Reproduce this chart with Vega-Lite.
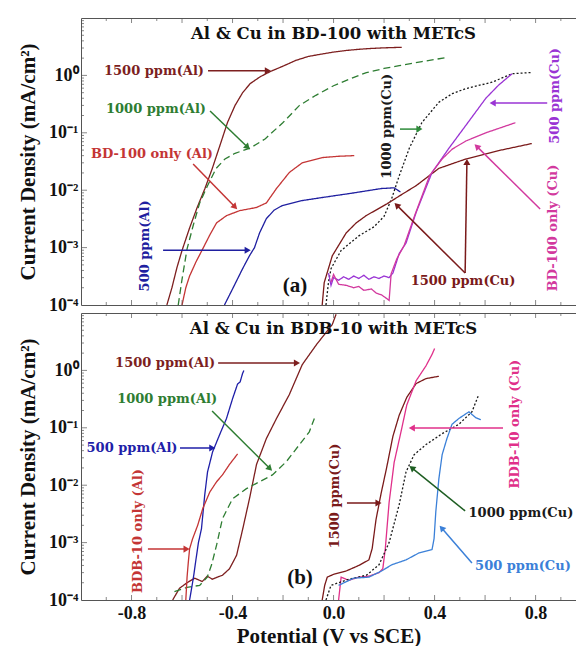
{
  "$schema": "https://vega.github.io/schema/vega-lite/v6.json",
  "padding": {"left": 17, "top": 17, "right": 0, "bottom": 0},
  "spacing": 8,
  "bounds": "flush",
  "config": {
    "view": {"stroke": "#555555", "strokeWidth": 1},
    "font": "Liberation Serif",
    "axis": {
      "domain": false, "ticks": false, "grid": false,
      "labelFont": "Liberation Serif", "labelFontWeight": "bold", "labelFontSize": 18, "labelColor": "#111111",
      "titleFont": "Liberation Serif", "titleFontWeight": "bold", "titleFontSize": 21, "titleColor": "#111111",
      "labelOverlap": false
    }
  },
  "resolve": {"scale": {"color": "independent", "strokeDash": "independent"}},
  "datasets": {
    "xMajor": [{"V": -0.8}, {"V": -0.6}, {"V": -0.4}, {"V": -0.2}, {"V": 0}, {"V": 0.2}, {"V": 0.4}, {"V": 0.6}, {"V": 0.8}],
    "xMinor": [{"V": -0.9}, {"V": -0.7}, {"V": -0.5}, {"V": -0.3}, {"V": -0.1}, {"V": 0.1}, {"V": 0.3}, {"V": 0.5}, {"V": 0.7}, {"V": 0.9}],
    "yMajor": [{"J": 0.001}, {"J": 0.01}, {"J": 0.1}, {"J": 1}],
    "yMinor": [{"J": 0.0002}, {"J": 0.0003}, {"J": 0.0004}, {"J": 0.0005}, {"J": 0.0006}, {"J": 0.0007}, {"J": 0.0008}, {"J": 0.0009}, {"J": 0.002}, {"J": 0.003}, {"J": 0.004}, {"J": 0.005}, {"J": 0.006}, {"J": 0.007}, {"J": 0.008}, {"J": 0.009}, {"J": 0.02}, {"J": 0.03}, {"J": 0.04}, {"J": 0.05}, {"J": 0.06}, {"J": 0.07}, {"J": 0.08}, {"J": 0.09}, {"J": 0.2}, {"J": 0.3}, {"J": 0.4}, {"J": 0.5}, {"J": 0.6}, {"J": 0.7}, {"J": 0.8}, {"J": 0.9}, {"J": 2}, {"J": 3}, {"J": 4}, {"J": 5}, {"J": 6}, {"J": 7}, {"J": 8}, {"J": 9}],
    "linesA": [
      {"series": "1500 ppm(Al)", "V": -0.66, "J": 0.0001}, {"series": "1500 ppm(Al)", "V": -0.64, "J": 0.0002}, {"series": "1500 ppm(Al)", "V": -0.62, "J": 0.00045}, {"series": "1500 ppm(Al)", "V": -0.6, "J": 0.00089}, {"series": "1500 ppm(Al)", "V": -0.57, "J": 0.0022}, {"series": "1500 ppm(Al)", "V": -0.54, "J": 0.005}, {"series": "1500 ppm(Al)", "V": -0.51, "J": 0.0105}, {"series": "1500 ppm(Al)", "V": -0.48, "J": 0.024}, {"series": "1500 ppm(Al)", "V": -0.45, "J": 0.06}, {"series": "1500 ppm(Al)", "V": -0.42, "J": 0.151}, {"series": "1500 ppm(Al)", "V": -0.39, "J": 0.3}, {"series": "1500 ppm(Al)", "V": -0.36, "J": 0.5}, {"series": "1500 ppm(Al)", "V": -0.33, "J": 0.72}, {"series": "1500 ppm(Al)", "V": -0.29, "J": 0.95}, {"series": "1500 ppm(Al)", "V": -0.25, "J": 1.17}, {"series": "1500 ppm(Al)", "V": -0.2, "J": 1.45}, {"series": "1500 ppm(Al)", "V": -0.15, "J": 1.82}, {"series": "1500 ppm(Al)", "V": -0.1, "J": 2.14}, {"series": "1500 ppm(Al)", "V": -0.05, "J": 2.34}, {"series": "1500 ppm(Al)", "V": 0.0, "J": 2.55}, {"series": "1500 ppm(Al)", "V": 0.05, "J": 2.72}, {"series": "1500 ppm(Al)", "V": 0.1, "J": 2.85}, {"series": "1500 ppm(Al)", "V": 0.15, "J": 2.95}, {"series": "1500 ppm(Al)", "V": 0.2, "J": 3.02}, {"series": "1500 ppm(Al)", "V": 0.27, "J": 3.09},
      {"series": "1000 ppm(Al)", "V": -0.615, "J": 0.0001}, {"series": "1000 ppm(Al)", "V": -0.6, "J": 0.00028}, {"series": "1000 ppm(Al)", "V": -0.58, "J": 0.00095}, {"series": "1000 ppm(Al)", "V": -0.555, "J": 0.0025}, {"series": "1000 ppm(Al)", "V": -0.53, "J": 0.006}, {"series": "1000 ppm(Al)", "V": -0.5, "J": 0.0117}, {"series": "1000 ppm(Al)", "V": -0.465, "J": 0.024}, {"series": "1000 ppm(Al)", "V": -0.43, "J": 0.035}, {"series": "1000 ppm(Al)", "V": -0.39, "J": 0.044}, {"series": "1000 ppm(Al)", "V": -0.33, "J": 0.054}, {"series": "1000 ppm(Al)", "V": -0.27, "J": 0.079}, {"series": "1000 ppm(Al)", "V": -0.2, "J": 0.151}, {"series": "1000 ppm(Al)", "V": -0.135, "J": 0.3}, {"series": "1000 ppm(Al)", "V": -0.07, "J": 0.45}, {"series": "1000 ppm(Al)", "V": 0.0, "J": 0.66}, {"series": "1000 ppm(Al)", "V": 0.06, "J": 0.85}, {"series": "1000 ppm(Al)", "V": 0.13, "J": 1.12}, {"series": "1000 ppm(Al)", "V": 0.2, "J": 1.32}, {"series": "1000 ppm(Al)", "V": 0.26, "J": 1.48}, {"series": "1000 ppm(Al)", "V": 0.35, "J": 1.74}, {"series": "1000 ppm(Al)", "V": 0.445, "J": 2.04},
      {"series": "BD-100 only (Al)", "V": -0.6, "J": 0.0001}, {"series": "BD-100 only (Al)", "V": -0.585, "J": 0.0002}, {"series": "BD-100 only (Al)", "V": -0.57, "J": 0.00032}, {"series": "BD-100 only (Al)", "V": -0.545, "J": 0.00056}, {"series": "BD-100 only (Al)", "V": -0.518, "J": 0.00095}, {"series": "BD-100 only (Al)", "V": -0.49, "J": 0.00166}, {"series": "BD-100 only (Al)", "V": -0.463, "J": 0.0027}, {"series": "BD-100 only (Al)", "V": -0.424, "J": 0.0036}, {"series": "BD-100 only (Al)", "V": -0.372, "J": 0.0044}, {"series": "BD-100 only (Al)", "V": -0.305, "J": 0.005}, {"series": "BD-100 only (Al)", "V": -0.266, "J": 0.006}, {"series": "BD-100 only (Al)", "V": -0.226, "J": 0.0107}, {"series": "BD-100 only (Al)", "V": -0.175, "J": 0.0204}, {"series": "BD-100 only (Al)", "V": -0.124, "J": 0.03}, {"series": "BD-100 only (Al)", "V": -0.045, "J": 0.037}, {"series": "BD-100 only (Al)", "V": 0.02, "J": 0.039}, {"series": "BD-100 only (Al)", "V": 0.082, "J": 0.04},
      {"series": "500 ppm(Al)", "V": -0.432, "J": 0.0001}, {"series": "500 ppm(Al)", "V": -0.4, "J": 0.00019}, {"series": "500 ppm(Al)", "V": -0.36, "J": 0.00043}, {"series": "500 ppm(Al)", "V": -0.333, "J": 0.00072}, {"series": "500 ppm(Al)", "V": -0.313, "J": 0.001}, {"series": "500 ppm(Al)", "V": -0.293, "J": 0.0018}, {"series": "500 ppm(Al)", "V": -0.266, "J": 0.0032}, {"series": "500 ppm(Al)", "V": -0.235, "J": 0.0045}, {"series": "500 ppm(Al)", "V": -0.203, "J": 0.0054}, {"series": "500 ppm(Al)", "V": -0.124, "J": 0.0066}, {"series": "500 ppm(Al)", "V": -0.05, "J": 0.0074}, {"series": "500 ppm(Al)", "V": 0.06, "J": 0.0087}, {"series": "500 ppm(Al)", "V": 0.19, "J": 0.0107}, {"series": "500 ppm(Al)", "V": 0.24, "J": 0.011}, {"series": "500 ppm(Al)", "V": 0.265, "J": 0.0093},
      {"series": "1000 ppm(Cu)", "V": -0.03, "J": 0.0001}, {"series": "1000 ppm(Cu)", "V": -0.02, "J": 0.00025}, {"series": "1000 ppm(Cu)", "V": -0.01, "J": 0.00043}, {"series": "1000 ppm(Cu)", "V": 0.03, "J": 0.00089}, {"series": "1000 ppm(Cu)", "V": 0.1, "J": 0.0016}, {"series": "1000 ppm(Cu)", "V": 0.16, "J": 0.0023}, {"series": "1000 ppm(Cu)", "V": 0.2, "J": 0.0035}, {"series": "1000 ppm(Cu)", "V": 0.23, "J": 0.0071}, {"series": "1000 ppm(Cu)", "V": 0.26, "J": 0.0178}, {"series": "1000 ppm(Cu)", "V": 0.3, "J": 0.054}, {"series": "1000 ppm(Cu)", "V": 0.35, "J": 0.151}, {"series": "1000 ppm(Cu)", "V": 0.417, "J": 0.34}, {"series": "1000 ppm(Cu)", "V": 0.47, "J": 0.48}, {"series": "1000 ppm(Cu)", "V": 0.524, "J": 0.59}, {"series": "1000 ppm(Cu)", "V": 0.627, "J": 0.76}, {"series": "1000 ppm(Cu)", "V": 0.707, "J": 1.07}, {"series": "1000 ppm(Cu)", "V": 0.78, "J": 1.12},
      {"series": "1500 ppm(Cu)", "V": -0.045, "J": 0.0001}, {"series": "1500 ppm(Cu)", "V": -0.037, "J": 0.000245}, {"series": "1500 ppm(Cu)", "V": -0.005, "J": 0.00072}, {"series": "1500 ppm(Cu)", "V": 0.05, "J": 0.0018}, {"series": "1500 ppm(Cu)", "V": 0.09, "J": 0.0027}, {"series": "1500 ppm(Cu)", "V": 0.129, "J": 0.0036}, {"series": "1500 ppm(Cu)", "V": 0.212, "J": 0.0058}, {"series": "1500 ppm(Cu)", "V": 0.26, "J": 0.0079}, {"series": "1500 ppm(Cu)", "V": 0.327, "J": 0.012}, {"series": "1500 ppm(Cu)", "V": 0.417, "J": 0.024}, {"series": "1500 ppm(Cu)", "V": 0.524, "J": 0.035}, {"series": "1500 ppm(Cu)", "V": 0.654, "J": 0.049}, {"series": "1500 ppm(Cu)", "V": 0.785, "J": 0.065},
      {"series": "500 ppm(Cu)", "V": -0.02, "J": 0.00036}, {"series": "500 ppm(Cu)", "V": -0.01, "J": 0.00022}, {"series": "500 ppm(Cu)", "V": 0.0, "J": 0.0003}, {"series": "500 ppm(Cu)", "V": 0.02, "J": 0.00027}, {"series": "500 ppm(Cu)", "V": 0.04, "J": 0.00031}, {"series": "500 ppm(Cu)", "V": 0.06, "J": 0.00028}, {"series": "500 ppm(Cu)", "V": 0.08, "J": 0.00032}, {"series": "500 ppm(Cu)", "V": 0.1, "J": 0.00029}, {"series": "500 ppm(Cu)", "V": 0.12, "J": 0.00033}, {"series": "500 ppm(Cu)", "V": 0.14, "J": 0.00028}, {"series": "500 ppm(Cu)", "V": 0.16, "J": 0.00031}, {"series": "500 ppm(Cu)", "V": 0.18, "J": 0.00029}, {"series": "500 ppm(Cu)", "V": 0.2, "J": 0.00032}, {"series": "500 ppm(Cu)", "V": 0.22, "J": 0.0003}, {"series": "500 ppm(Cu)", "V": 0.235, "J": 0.00036}, {"series": "500 ppm(Cu)", "V": 0.26, "J": 0.00079}, {"series": "500 ppm(Cu)", "V": 0.287, "J": 0.0012}, {"series": "500 ppm(Cu)", "V": 0.327, "J": 0.0041}, {"series": "500 ppm(Cu)", "V": 0.39, "J": 0.0204}, {"series": "500 ppm(Cu)", "V": 0.457, "J": 0.054}, {"series": "500 ppm(Cu)", "V": 0.524, "J": 0.135}, {"series": "500 ppm(Cu)", "V": 0.603, "J": 0.4}, {"series": "500 ppm(Cu)", "V": 0.654, "J": 0.68}, {"series": "500 ppm(Cu)", "V": 0.707, "J": 1.07},
      {"series": "BD-100 only (Cu)", "V": -0.01, "J": 0.00025}, {"series": "BD-100 only (Cu)", "V": 0.0, "J": 0.00034}, {"series": "BD-100 only (Cu)", "V": 0.02, "J": 0.00023}, {"series": "BD-100 only (Cu)", "V": 0.05, "J": 0.00022}, {"series": "BD-100 only (Cu)", "V": 0.08, "J": 0.0002}, {"series": "BD-100 only (Cu)", "V": 0.1, "J": 0.00021}, {"series": "BD-100 only (Cu)", "V": 0.12, "J": 0.00018}, {"series": "BD-100 only (Cu)", "V": 0.15, "J": 0.00019}, {"series": "BD-100 only (Cu)", "V": 0.17, "J": 0.00016}, {"series": "BD-100 only (Cu)", "V": 0.19, "J": 0.00015}, {"series": "BD-100 only (Cu)", "V": 0.21, "J": 0.00013}, {"series": "BD-100 only (Cu)", "V": 0.22, "J": 0.00012}, {"series": "BD-100 only (Cu)", "V": 0.228, "J": 0.00035}, {"series": "BD-100 only (Cu)", "V": 0.25, "J": 0.00063}, {"series": "BD-100 only (Cu)", "V": 0.28, "J": 0.0011}, {"series": "BD-100 only (Cu)", "V": 0.32, "J": 0.0035}, {"series": "BD-100 only (Cu)", "V": 0.38, "J": 0.0178}, {"series": "BD-100 only (Cu)", "V": 0.43, "J": 0.035}, {"series": "BD-100 only (Cu)", "V": 0.47, "J": 0.052}, {"series": "BD-100 only (Cu)", "V": 0.524, "J": 0.072}, {"series": "BD-100 only (Cu)", "V": 0.603, "J": 0.1}, {"series": "BD-100 only (Cu)", "V": 0.72, "J": 0.15}
    ],
    "linesB": [
      {"series": "1500 ppm(Al)", "V": -0.637, "J": 0.0001}, {"series": "1500 ppm(Al)", "V": -0.61, "J": 0.00016}, {"series": "1500 ppm(Al)", "V": -0.58, "J": 0.0002}, {"series": "1500 ppm(Al)", "V": -0.55, "J": 0.00024}, {"series": "1500 ppm(Al)", "V": -0.52, "J": 0.00021}, {"series": "1500 ppm(Al)", "V": -0.5, "J": 0.00026}, {"series": "1500 ppm(Al)", "V": -0.48, "J": 0.00023}, {"series": "1500 ppm(Al)", "V": -0.46, "J": 0.00025}, {"series": "1500 ppm(Al)", "V": -0.44, "J": 0.00027}, {"series": "1500 ppm(Al)", "V": -0.412, "J": 0.00035}, {"series": "1500 ppm(Al)", "V": -0.384, "J": 0.0006}, {"series": "1500 ppm(Al)", "V": -0.36, "J": 0.0017}, {"series": "1500 ppm(Al)", "V": -0.333, "J": 0.0058}, {"series": "1500 ppm(Al)", "V": -0.305, "J": 0.023}, {"series": "1500 ppm(Al)", "V": -0.266, "J": 0.065}, {"series": "1500 ppm(Al)", "V": -0.226, "J": 0.145}, {"series": "1500 ppm(Al)", "V": -0.175, "J": 0.38}, {"series": "1500 ppm(Al)", "V": -0.124, "J": 1.26}, {"series": "1500 ppm(Al)", "V": -0.068, "J": 2.8}, {"series": "1500 ppm(Al)", "V": -0.005, "J": 6.3}, {"series": "1500 ppm(Al)", "V": 0.01, "J": 9.5},
      {"series": "1000 ppm(Al)", "V": -0.63, "J": 0.00014}, {"series": "1000 ppm(Al)", "V": -0.58, "J": 0.000166}, {"series": "1000 ppm(Al)", "V": -0.53, "J": 0.00018}, {"series": "1000 ppm(Al)", "V": -0.5, "J": 0.00025}, {"series": "1000 ppm(Al)", "V": -0.483, "J": 0.00041}, {"series": "1000 ppm(Al)", "V": -0.463, "J": 0.00091}, {"series": "1000 ppm(Al)", "V": -0.44, "J": 0.0026}, {"series": "1000 ppm(Al)", "V": -0.4, "J": 0.0058}, {"series": "1000 ppm(Al)", "V": -0.345, "J": 0.0087}, {"series": "1000 ppm(Al)", "V": -0.293, "J": 0.0115}, {"series": "1000 ppm(Al)", "V": -0.242, "J": 0.0151}, {"series": "1000 ppm(Al)", "V": -0.187, "J": 0.0257}, {"series": "1000 ppm(Al)", "V": -0.135, "J": 0.051}, {"series": "1000 ppm(Al)", "V": -0.096, "J": 0.085}, {"series": "1000 ppm(Al)", "V": -0.076, "J": 0.145},
      {"series": "500 ppm(Al)", "V": -0.57, "J": 0.0001}, {"series": "500 ppm(Al)", "V": -0.56, "J": 0.00018}, {"series": "500 ppm(Al)", "V": -0.553, "J": 0.00028}, {"series": "500 ppm(Al)", "V": -0.545, "J": 0.0005}, {"series": "500 ppm(Al)", "V": -0.535, "J": 0.001}, {"series": "500 ppm(Al)", "V": -0.523, "J": 0.00174}, {"series": "500 ppm(Al)", "V": -0.51, "J": 0.0068}, {"series": "500 ppm(Al)", "V": -0.499, "J": 0.017}, {"series": "500 ppm(Al)", "V": -0.479, "J": 0.038}, {"series": "500 ppm(Al)", "V": -0.451, "J": 0.076}, {"series": "500 ppm(Al)", "V": -0.424, "J": 0.145}, {"series": "500 ppm(Al)", "V": -0.4, "J": 0.32}, {"series": "500 ppm(Al)", "V": -0.38, "J": 0.58}, {"series": "500 ppm(Al)", "V": -0.37, "J": 0.63}, {"series": "500 ppm(Al)", "V": -0.36, "J": 0.89}, {"series": "500 ppm(Al)", "V": -0.355, "J": 1.0},
      {"series": "BDB-10 only (Al)", "V": -0.585, "J": 0.0001}, {"series": "BDB-10 only (Al)", "V": -0.58, "J": 0.00025}, {"series": "BDB-10 only (Al)", "V": -0.575, "J": 0.00046}, {"series": "BDB-10 only (Al)", "V": -0.57, "J": 0.00078}, {"series": "BDB-10 only (Al)", "V": -0.558, "J": 0.00117}, {"series": "BDB-10 only (Al)", "V": -0.538, "J": 0.002}, {"series": "BDB-10 only (Al)", "V": -0.518, "J": 0.0039}, {"series": "BDB-10 only (Al)", "V": -0.49, "J": 0.0076}, {"series": "BDB-10 only (Al)", "V": -0.463, "J": 0.0115}, {"series": "BDB-10 only (Al)", "V": -0.44, "J": 0.0151}, {"series": "BDB-10 only (Al)", "V": -0.412, "J": 0.023}, {"series": "BDB-10 only (Al)", "V": -0.38, "J": 0.035},
      {"series": "1500 ppm(Cu)", "V": -0.045, "J": 0.0001}, {"series": "1500 ppm(Cu)", "V": -0.035, "J": 0.00018}, {"series": "1500 ppm(Cu)", "V": -0.025, "J": 0.00025}, {"series": "1500 ppm(Cu)", "V": 0.0, "J": 0.00028}, {"series": "1500 ppm(Cu)", "V": 0.05, "J": 0.00032}, {"series": "1500 ppm(Cu)", "V": 0.1, "J": 0.0004}, {"series": "1500 ppm(Cu)", "V": 0.14, "J": 0.0005}, {"series": "1500 ppm(Cu)", "V": 0.153, "J": 0.00079}, {"series": "1500 ppm(Cu)", "V": 0.168, "J": 0.0025}, {"series": "1500 ppm(Cu)", "V": 0.188, "J": 0.0071}, {"series": "1500 ppm(Cu)", "V": 0.21, "J": 0.02}, {"series": "1500 ppm(Cu)", "V": 0.235, "J": 0.071}, {"series": "1500 ppm(Cu)", "V": 0.26, "J": 0.166}, {"series": "1500 ppm(Cu)", "V": 0.29, "J": 0.34}, {"series": "1500 ppm(Cu)", "V": 0.327, "J": 0.59}, {"series": "1500 ppm(Cu)", "V": 0.366, "J": 0.72}, {"series": "1500 ppm(Cu)", "V": 0.417, "J": 0.79},
      {"series": "BDB-10 only (Cu)", "V": 0.02, "J": 0.0001}, {"series": "BDB-10 only (Cu)", "V": 0.03, "J": 0.00025}, {"series": "BDB-10 only (Cu)", "V": 0.06, "J": 0.00022}, {"series": "BDB-10 only (Cu)", "V": 0.1, "J": 0.00025}, {"series": "BDB-10 only (Cu)", "V": 0.14, "J": 0.00026}, {"series": "BDB-10 only (Cu)", "V": 0.18, "J": 0.0003}, {"series": "BDB-10 only (Cu)", "V": 0.195, "J": 0.00035}, {"series": "BDB-10 only (Cu)", "V": 0.205, "J": 0.00079}, {"series": "BDB-10 only (Cu)", "V": 0.22, "J": 0.005}, {"series": "BDB-10 only (Cu)", "V": 0.24, "J": 0.025}, {"series": "BDB-10 only (Cu)", "V": 0.267, "J": 0.085}, {"series": "BDB-10 only (Cu)", "V": 0.29, "J": 0.25}, {"series": "BDB-10 only (Cu)", "V": 0.327, "J": 0.66}, {"series": "BDB-10 only (Cu)", "V": 0.366, "J": 1.2}, {"series": "BDB-10 only (Cu)", "V": 0.39, "J": 1.9}, {"series": "BDB-10 only (Cu)", "V": 0.4, "J": 2.4},
      {"series": "1000 ppm(Cu)", "V": -0.03, "J": 0.0001}, {"series": "1000 ppm(Cu)", "V": -0.01, "J": 0.00018}, {"series": "1000 ppm(Cu)", "V": 0.06, "J": 0.00023}, {"series": "1000 ppm(Cu)", "V": 0.13, "J": 0.00027}, {"series": "1000 ppm(Cu)", "V": 0.18, "J": 0.00041}, {"series": "1000 ppm(Cu)", "V": 0.22, "J": 0.001}, {"series": "1000 ppm(Cu)", "V": 0.26, "J": 0.0046}, {"series": "1000 ppm(Cu)", "V": 0.287, "J": 0.017}, {"series": "1000 ppm(Cu)", "V": 0.319, "J": 0.034}, {"series": "1000 ppm(Cu)", "V": 0.366, "J": 0.051}, {"series": "1000 ppm(Cu)", "V": 0.43, "J": 0.079}, {"series": "1000 ppm(Cu)", "V": 0.496, "J": 0.115}, {"series": "1000 ppm(Cu)", "V": 0.548, "J": 0.19}, {"series": "1000 ppm(Cu)", "V": 0.575, "J": 0.38},
      {"series": "500 ppm(Cu)", "V": 0.02, "J": 0.00018}, {"series": "500 ppm(Cu)", "V": 0.08, "J": 0.00024}, {"series": "500 ppm(Cu)", "V": 0.14, "J": 0.00025}, {"series": "500 ppm(Cu)", "V": 0.19, "J": 0.00032}, {"series": "500 ppm(Cu)", "V": 0.23, "J": 0.00041}, {"series": "500 ppm(Cu)", "V": 0.287, "J": 0.0005}, {"series": "500 ppm(Cu)", "V": 0.338, "J": 0.00066}, {"series": "500 ppm(Cu)", "V": 0.39, "J": 0.00076}, {"series": "500 ppm(Cu)", "V": 0.398, "J": 0.00117}, {"series": "500 ppm(Cu)", "V": 0.405, "J": 0.0035}, {"series": "500 ppm(Cu)", "V": 0.417, "J": 0.0129}, {"series": "500 ppm(Cu)", "V": 0.43, "J": 0.034}, {"series": "500 ppm(Cu)", "V": 0.449, "J": 0.065}, {"series": "500 ppm(Cu)", "V": 0.469, "J": 0.115}, {"series": "500 ppm(Cu)", "V": 0.496, "J": 0.145}, {"series": "500 ppm(Cu)", "V": 0.536, "J": 0.19}, {"series": "500 ppm(Cu)", "V": 0.563, "J": 0.15}, {"series": "500 ppm(Cu)", "V": 0.583, "J": 0.138}
    ],
    "textA_h": [
      {"label": "1500 ppm(Al)", "V": -0.711, "J": 1.2, "series": "1500 ppm(Al)"},
      {"label": "1000 ppm(Al)", "V": -0.703, "J": 0.26, "series": "1000 ppm(Al)"},
      {"label": "BD-100 only (Al)", "V": -0.719, "J": 0.043, "series": "BD-100 only (Al)"},
      {"label": "1500 ppm(Cu)", "V": 0.513, "J": 0.00026, "series": "1500 ppm(Cu)"}
    ],
    "textA_v": [
      {"label": "500 ppm(Al)", "V": -0.747, "J": 0.00107, "series": "500 ppm(Al)"},
      {"label": "1000 ppm(Cu)", "V": 0.21, "J": 0.13, "series": "1000 ppm(Cu)"},
      {"label": "500 ppm(Cu)", "V": 0.877, "J": 0.44, "series": "500 ppm(Cu)"},
      {"label": "BD-100 only (Cu)", "V": 0.869, "J": 0.0022, "series": "BD-100 only (Cu)"}
    ],
    "arrowsA": [
      {"series": "1500 ppm(Al)", "V": -0.497, "J": 1.2, "V2": -0.26, "J2": 1.2},
      {"series": "1000 ppm(Al)", "V": -0.489, "J": 0.24, "V2": -0.34, "J2": 0.056},
      {"series": "BD-100 only (Al)", "V": -0.556, "J": 0.0286, "V2": -0.39, "J2": 0.0051},
      {"series": "500 ppm(Al)", "V": -0.675, "J": 0.0009, "V2": -0.34, "J2": 0.0009},
      {"series": "1000 ppm(Cu) arrow", "V": 0.263, "J": 0.116, "V2": 0.34, "J2": 0.116},
      {"series": "500 ppm(Cu)", "V": 0.846, "J": 0.33, "V2": 0.63, "J2": 0.33},
      {"series": "BD-100 only (Cu)", "V": 0.818, "J": 0.0047, "V2": 0.567, "J2": 0.058},
      {"series": "1500 ppm(Cu)", "V": 0.521, "J": 0.00036, "V2": 0.25, "J2": 0.0055},
      {"series": "1500 ppm(Cu)", "V": 0.521, "J": 0.00036, "V2": 0.528, "J2": 0.031}
    ],
    "textB_h": [
      {"label": "1500 ppm(Al)", "V": -0.667, "J": 1.35, "series": "1500 ppm(Al)"},
      {"label": "1000 ppm(Al)", "V": -0.659, "J": 0.318, "series": "1000 ppm(Al)"},
      {"label": "500 ppm(Al)", "V": -0.798, "J": 0.0445, "series": "500 ppm(Al)"},
      {"label": "1000 ppm(Cu)", "V": 0.742, "J": 0.00328, "series": "1000 ppm(Cu)"},
      {"label": "500 ppm(Cu)", "V": 0.75, "J": 0.00039, "series": "500 ppm(Cu)"}
    ],
    "textB_v": [
      {"label": "BDB-10 only (Al)", "V": -0.774, "J": 0.00159, "series": "BDB-10 only (Al)"},
      {"label": "1500 ppm(Cu)", "V": 0.006, "J": 0.0065, "series": "1500 ppm(Cu)"},
      {"label": "BDB-10 only (Cu)", "V": 0.719, "J": 0.116, "series": "BDB-10 only (Cu)"}
    ],
    "arrowsB": [
      {"series": "1500 ppm(Al)", "V": -0.457, "J": 1.35, "V2": -0.145, "J2": 1.35},
      {"series": "1000 ppm(Al)", "V": -0.481, "J": 0.196, "V2": -0.252, "J2": 0.0195},
      {"series": "500 ppm(Al)", "V": -0.608, "J": 0.0445, "V2": -0.48, "J2": 0.0445},
      {"series": "BDB-10 only (Al)", "V": -0.735, "J": 0.00077, "V2": -0.582, "J2": 0.00077},
      {"series": "1500 ppm(Cu)", "V": 0.053, "J": 0.0049, "V2": 0.178, "J2": 0.0049},
      {"series": "BDB-10 only (Cu)", "V": 0.671, "J": 0.0993, "V2": 0.31, "J2": 0.0993},
      {"series": "1000 ppm(Cu) arrow", "V": 0.521, "J": 0.00356, "V2": 0.31, "J2": 0.02},
      {"series": "500 ppm(Cu)", "V": 0.548, "J": 0.00044, "V2": 0.428, "J2": 0.0018}
    ]
  },
  "vconcat": [
    {
      "width": 495, "height": 287,
      "resolve": {"axis": {"x": "independent", "y": "independent"}},
      "layer": [
        {
          "data": {"name": "linesA"},
          "mark": {"type": "line", "strokeWidth": 1.3, "clip": true},
          "encoding": {
            "x": {"field": "V", "type": "quantitative", "scale": {"domain": [-1, 0.96], "nice": false, "zero": false}, "axis": null},
            "y": {"field": "J", "type": "quantitative", "scale": {"type": "log", "domain": [0.0001, 10], "nice": false},
              "axis": {"title": "Current Density (mA/cm²)", "titlePadding": 10, "labelPadding": 3,
                "values": [0.0001, 0.001, 0.01, 0.1, 1],
                "labelExpr": "datum.value < 0.0002 ? '10⁻⁴' : datum.value < 0.002 ? '10⁻³' : datum.value < 0.02 ? '10⁻²' : datum.value < 0.2 ? '10⁻¹' : '10⁰'"}},
            "color": {"field": "series", "type": "nominal", "legend": null,
              "scale": {"domain": ["1500 ppm(Al)", "1000 ppm(Al)", "BD-100 only (Al)", "500 ppm(Al)", "1000 ppm(Cu)", "1500 ppm(Cu)", "500 ppm(Cu)", "BD-100 only (Cu)", "1000 ppm(Cu) arrow", "title"],
                "range": ["#7d1f1f", "#2e7d32", "#c43535", "#1f1fa0", "#1a1a1a", "#7a1a1a", "#9a34d4", "#d2399e", "#2e8b3a", "#111111"]}},
            "strokeDash": {"field": "series", "type": "nominal", "legend": null,
              "scale": {"domain": ["1500 ppm(Al)", "1000 ppm(Al)", "BD-100 only (Al)", "500 ppm(Al)", "1000 ppm(Cu)", "1500 ppm(Cu)", "500 ppm(Cu)", "BD-100 only (Cu)"],
                "range": [[1, 0], [7, 4], [1, 0], [1, 0], [2, 2], [1, 0], [1, 0], [1, 0]]}}
          }
        },
        {"data": {"name": "xMajor"}, "mark": {"type": "tick", "orient": "vertical", "size": 10, "thickness": 1, "color": "#555555", "clip": true},
          "encoding": {"x": {"field": "V", "type": "quantitative", "axis": null}, "y": {"datum": 0.0001, "axis": null}}},
        {"data": {"name": "xMajor"}, "mark": {"type": "tick", "orient": "vertical", "size": 10, "thickness": 1, "color": "#555555", "clip": true},
          "encoding": {"x": {"field": "V", "type": "quantitative", "axis": null}, "y": {"datum": 10, "axis": null}}},
        {"data": {"name": "xMinor"}, "mark": {"type": "tick", "orient": "vertical", "size": 6, "thickness": 1, "color": "#555555", "clip": true},
          "encoding": {"x": {"field": "V", "type": "quantitative", "axis": null}, "y": {"datum": 0.0001, "axis": null}}},
        {"data": {"name": "xMinor"}, "mark": {"type": "tick", "orient": "vertical", "size": 6, "thickness": 1, "color": "#555555", "clip": true},
          "encoding": {"x": {"field": "V", "type": "quantitative", "axis": null}, "y": {"datum": 10, "axis": null}}},
        {"data": {"name": "yMajor"}, "mark": {"type": "tick", "orient": "horizontal", "size": 12, "thickness": 1, "color": "#555555", "clip": true},
          "encoding": {"y": {"field": "J", "type": "quantitative", "axis": null}, "x": {"datum": -1, "axis": null}}},
        {"data": {"name": "yMinor"}, "mark": {"type": "tick", "orient": "horizontal", "size": 6, "thickness": 1, "color": "#555555", "clip": true},
          "encoding": {"y": {"field": "J", "type": "quantitative", "axis": null}, "x": {"datum": -1, "axis": null}}},
        {
          "data": {"values": [{"label": "Al & Cu in BD-100 with METcS", "V": 0.0, "J": 5.26, "series": "title"}]},
          "mark": {"type": "text", "font": "DejaVu Serif", "fontWeight": "bold", "fontSize": 16.5, "align": "center", "baseline": "middle"},
          "encoding": {
            "x": {"field": "V", "type": "quantitative", "axis": null},
            "y": {"field": "J", "type": "quantitative", "axis": null},
            "text": {"field": "label"},
            "color": {"field": "series", "type": "nominal", "legend": null}
          }
        },
        {
          "data": {"name": "arrowsA"},
          "mark": {"type": "rule", "strokeWidth": 1.5},
          "encoding": {
            "x": {"field": "V", "type": "quantitative", "axis": null},
            "y": {"field": "J", "type": "quantitative", "axis": null},
            "x2": {"field": "V2"}, "y2": {"field": "J2"},
            "color": {"field": "series", "type": "nominal", "legend": null}
          }
        },
        {
          "data": {"name": "arrowsA"},
          "transform": [{"calculate": "atan2(-(log(datum.J2) - log(datum.J)) / LN10 * 57.4, (datum.V2 - datum.V) * 252.55) * 180 / PI", "as": "ang"}],
          "mark": {"type": "point", "shape": "triangle-right", "filled": true, "size": 50, "opacity": 1},
          "encoding": {
            "x": {"field": "V2", "type": "quantitative", "axis": null},
            "y": {"field": "J2", "type": "quantitative", "axis": null},
            "angle": {"field": "ang", "type": "quantitative", "scale": null},
            "color": {"field": "series", "type": "nominal", "legend": null}
          }
        },
        {
          "data": {"name": "textA_h"},
          "mark": {"type": "text", "font": "DejaVu Serif", "fontWeight": "bold", "fontSize": 13, "align": "center", "baseline": "middle"},
          "encoding": {
            "x": {"field": "V", "type": "quantitative", "axis": null},
            "y": {"field": "J", "type": "quantitative", "axis": null},
            "text": {"field": "label"},
            "color": {"field": "series", "type": "nominal", "legend": null}
          }
        },
        {
          "data": {"name": "textA_v"},
          "mark": {"type": "text", "font": "DejaVu Serif", "fontWeight": "bold", "fontSize": 13, "align": "center", "baseline": "middle", "angle": 270},
          "encoding": {
            "x": {"field": "V", "type": "quantitative", "axis": null},
            "y": {"field": "J", "type": "quantitative", "axis": null},
            "text": {"field": "label"},
            "color": {"field": "series", "type": "nominal", "legend": null}
          }
        },
        {
          "data": {"values": [{"label": "(a)", "V": -0.153, "J": 0.000214, "series": "title"}]},
          "mark": {"type": "text", "font": "Liberation Serif", "fontWeight": "bold", "fontSize": 21, "align": "center", "baseline": "middle"},
          "encoding": {
            "x": {"field": "V", "type": "quantitative", "axis": null},
            "y": {"field": "J", "type": "quantitative", "axis": null},
            "text": {"field": "label"},
            "color": {"field": "series", "type": "nominal", "legend": null}
          }
        }
      ]
    },
    {
      "width": 495, "height": 287,
      "resolve": {"axis": {"x": "independent", "y": "independent"}},
      "layer": [
        {
          "data": {"name": "linesB"},
          "mark": {"type": "line", "strokeWidth": 1.3, "clip": true},
          "encoding": {
            "x": {"field": "V", "type": "quantitative", "scale": {"domain": [-1, 0.96], "nice": false, "zero": false},
              "axis": {"title": "Potential (V vs SCE)", "titlePadding": 3, "labelPadding": 4,
                "values": [-0.8, -0.4, 0, 0.4, 0.8],
                "labelExpr": "replace(format(datum.value, '.1f'), '−', '-')"}},
            "y": {"field": "J", "type": "quantitative", "scale": {"type": "log", "domain": [0.0001, 10], "nice": false},
              "axis": {"title": "Current Density (mA/cm²)", "titlePadding": 10, "labelPadding": 3,
                "values": [0.0001, 0.001, 0.01, 0.1, 1],
                "labelExpr": "datum.value < 0.0002 ? '10⁻⁴' : datum.value < 0.002 ? '10⁻³' : datum.value < 0.02 ? '10⁻²' : datum.value < 0.2 ? '10⁻¹' : '10⁰'"}},
            "color": {"field": "series", "type": "nominal", "legend": null,
              "scale": {"domain": ["1500 ppm(Al)", "1000 ppm(Al)", "BDB-10 only (Al)", "500 ppm(Al)", "1500 ppm(Cu)", "BDB-10 only (Cu)", "1000 ppm(Cu)", "500 ppm(Cu)", "1000 ppm(Cu) arrow", "title"],
                "range": ["#7d1f1f", "#2e7d32", "#c43535", "#1f1fa8", "#7a1a1a", "#e0308a", "#1a1a1a", "#3b80d8", "#1e5e22", "#111111"]}},
            "strokeDash": {"field": "series", "type": "nominal", "legend": null,
              "scale": {"domain": ["1500 ppm(Al)", "1000 ppm(Al)", "BDB-10 only (Al)", "500 ppm(Al)", "1500 ppm(Cu)", "BDB-10 only (Cu)", "1000 ppm(Cu)", "500 ppm(Cu)"],
                "range": [[1, 0], [7, 4], [1, 0], [1, 0], [1, 0], [1, 0], [2, 2], [1, 0]]}}
          }
        },
        {"data": {"name": "xMajor"}, "mark": {"type": "tick", "orient": "vertical", "size": 10, "thickness": 1, "color": "#555555", "clip": true},
          "encoding": {"x": {"field": "V", "type": "quantitative", "axis": null}, "y": {"datum": 0.0001, "axis": null}}},
        {"data": {"name": "xMajor"}, "mark": {"type": "tick", "orient": "vertical", "size": 10, "thickness": 1, "color": "#555555", "clip": true},
          "encoding": {"x": {"field": "V", "type": "quantitative", "axis": null}, "y": {"datum": 10, "axis": null}}},
        {"data": {"name": "xMinor"}, "mark": {"type": "tick", "orient": "vertical", "size": 6, "thickness": 1, "color": "#555555", "clip": true},
          "encoding": {"x": {"field": "V", "type": "quantitative", "axis": null}, "y": {"datum": 0.0001, "axis": null}}},
        {"data": {"name": "xMinor"}, "mark": {"type": "tick", "orient": "vertical", "size": 6, "thickness": 1, "color": "#555555", "clip": true},
          "encoding": {"x": {"field": "V", "type": "quantitative", "axis": null}, "y": {"datum": 10, "axis": null}}},
        {"data": {"name": "yMajor"}, "mark": {"type": "tick", "orient": "horizontal", "size": 12, "thickness": 1, "color": "#555555", "clip": true},
          "encoding": {"y": {"field": "J", "type": "quantitative", "axis": null}, "x": {"datum": -1, "axis": null}}},
        {"data": {"name": "yMinor"}, "mark": {"type": "tick", "orient": "horizontal", "size": 6, "thickness": 1, "color": "#555555", "clip": true},
          "encoding": {"y": {"field": "J", "type": "quantitative", "axis": null}, "x": {"datum": -1, "axis": null}}},
        {
          "data": {"values": [{"label": "Al & Cu in BDB-10 with METcS", "V": 0.0, "J": 5.26, "series": "title"}]},
          "mark": {"type": "text", "font": "DejaVu Serif", "fontWeight": "bold", "fontSize": 16.5, "align": "center", "baseline": "middle"},
          "encoding": {
            "x": {"field": "V", "type": "quantitative", "axis": null},
            "y": {"field": "J", "type": "quantitative", "axis": null},
            "text": {"field": "label"},
            "color": {"field": "series", "type": "nominal", "legend": null}
          }
        },
        {
          "data": {"name": "arrowsB"},
          "mark": {"type": "rule", "strokeWidth": 1.5},
          "encoding": {
            "x": {"field": "V", "type": "quantitative", "axis": null},
            "y": {"field": "J", "type": "quantitative", "axis": null},
            "x2": {"field": "V2"}, "y2": {"field": "J2"},
            "color": {"field": "series", "type": "nominal", "legend": null}
          }
        },
        {
          "data": {"name": "arrowsB"},
          "transform": [{"calculate": "atan2(-(log(datum.J2) - log(datum.J)) / LN10 * 57.4, (datum.V2 - datum.V) * 252.55) * 180 / PI", "as": "ang"}],
          "mark": {"type": "point", "shape": "triangle-right", "filled": true, "size": 50, "opacity": 1},
          "encoding": {
            "x": {"field": "V2", "type": "quantitative", "axis": null},
            "y": {"field": "J2", "type": "quantitative", "axis": null},
            "angle": {"field": "ang", "type": "quantitative", "scale": null},
            "color": {"field": "series", "type": "nominal", "legend": null}
          }
        },
        {
          "data": {"name": "textB_h"},
          "mark": {"type": "text", "font": "DejaVu Serif", "fontWeight": "bold", "fontSize": 13, "align": "center", "baseline": "middle"},
          "encoding": {
            "x": {"field": "V", "type": "quantitative", "axis": null},
            "y": {"field": "J", "type": "quantitative", "axis": null},
            "text": {"field": "label"},
            "color": {"field": "series", "type": "nominal", "legend": null}
          }
        },
        {
          "data": {"name": "textB_v"},
          "mark": {"type": "text", "font": "DejaVu Serif", "fontWeight": "bold", "fontSize": 13, "align": "center", "baseline": "middle", "angle": 270},
          "encoding": {
            "x": {"field": "V", "type": "quantitative", "axis": null},
            "y": {"field": "J", "type": "quantitative", "axis": null},
            "text": {"field": "label"},
            "color": {"field": "series", "type": "nominal", "legend": null}
          }
        },
        {
          "data": {"values": [{"label": "(b)", "V": -0.133, "J": 0.00024, "series": "title"}]},
          "mark": {"type": "text", "font": "Liberation Serif", "fontWeight": "bold", "fontSize": 21, "align": "center", "baseline": "middle"},
          "encoding": {
            "x": {"field": "V", "type": "quantitative", "axis": null},
            "y": {"field": "J", "type": "quantitative", "axis": null},
            "text": {"field": "label"},
            "color": {"field": "series", "type": "nominal", "legend": null}
          }
        }
      ]
    }
  ]
}
